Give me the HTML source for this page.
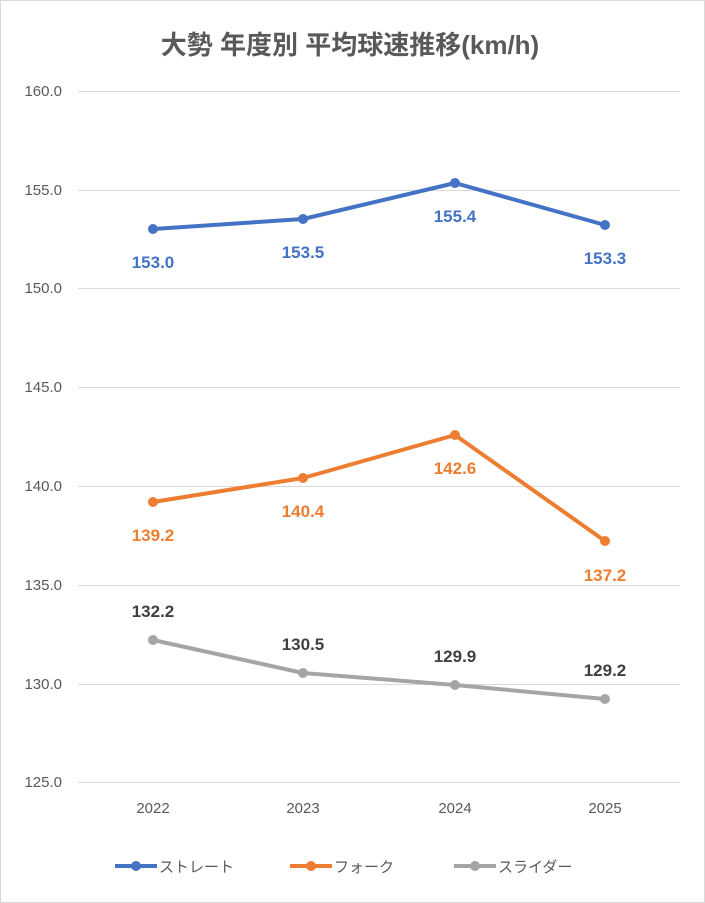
<!DOCTYPE html>
<html><head><meta charset="utf-8"><style>
html,body{margin:0;padding:0;background:#fff;}
svg{display:block;}
text{font-family:"Liberation Sans","Noto Sans CJK JP",sans-serif;}
</style></head><body>
<svg width="705" height="903" viewBox="0 0 705 903" xmlns="http://www.w3.org/2000/svg">
<rect x="0.5" y="0.5" width="704" height="902" fill="#fff" stroke="#d9d9d9"/>
<text x="350" y="54" text-anchor="middle" font-size="26" font-weight="bold" fill="#595959">大勢 年度別 平均球速推移(km/h)</text>
<g stroke="#d9d9d9" stroke-width="1">
<line x1="78" y1="91.5" x2="680" y2="91.5"/>
<line x1="78" y1="190.5" x2="680" y2="190.5"/>
<line x1="78" y1="288.5" x2="680" y2="288.5"/>
<line x1="78" y1="387.5" x2="680" y2="387.5"/>
<line x1="78" y1="486.5" x2="680" y2="486.5"/>
<line x1="78" y1="585.5" x2="680" y2="585.5"/>
<line x1="78" y1="684.5" x2="680" y2="684.5"/>
<line x1="78" y1="782.5" x2="680" y2="782.5"/>
</g>
<g font-size="15" fill="#595959" text-anchor="end">
<text x="62" y="96">160.0</text><text x="62" y="195">155.0</text><text x="62" y="293">150.0</text>
<text x="62" y="392">145.0</text><text x="62" y="491">140.0</text><text x="62" y="590">135.0</text>
<text x="62" y="689">130.0</text><text x="62" y="787">125.0</text>
</g>
<g font-size="15" fill="#595959" text-anchor="middle">
<text x="153" y="813">2022</text><text x="303" y="813">2023</text><text x="455" y="813">2024</text><text x="605" y="813">2025</text>
</g>
<polyline points="153,229 303,219 455,183 605,225" fill="none" stroke="#4472c4" stroke-width="4" stroke-linejoin="round"/>
<g fill="#4472c4"><circle cx="153" cy="229" r="5"/><circle cx="303" cy="219" r="5"/><circle cx="455" cy="183" r="5"/><circle cx="605" cy="225" r="5"/></g>
<polyline points="153,502 303,478 455,435 605,541" fill="none" stroke="#ed7d31" stroke-width="4" stroke-linejoin="round"/>
<g fill="#ed7d31"><circle cx="153" cy="502" r="5"/><circle cx="303" cy="478" r="5"/><circle cx="455" cy="435" r="5"/><circle cx="605" cy="541" r="5"/></g>
<polyline points="153,640 303,673 455,685 605,699" fill="none" stroke="#a5a5a5" stroke-width="4" stroke-linejoin="round"/>
<g fill="#a5a5a5"><circle cx="153" cy="640" r="5"/><circle cx="303" cy="673" r="5"/><circle cx="455" cy="685" r="5"/><circle cx="605" cy="699" r="5"/></g>
<g font-size="17" text-anchor="middle" font-weight="bold">
<g fill="#4472c4"><text x="153" y="268">153.0</text><text x="303" y="258">153.5</text><text x="455" y="222">155.4</text><text x="605" y="264">153.3</text></g>
<g fill="#ed7d31"><text x="153" y="541">139.2</text><text x="303" y="517">140.4</text><text x="455" y="474">142.6</text><text x="605" y="581">137.2</text></g>
<g fill="#404040"><text x="153" y="617">132.2</text><text x="303" y="650">130.5</text><text x="455" y="662">129.9</text><text x="605" y="676">129.2</text></g>
</g>
<g font-size="15" fill="#595959">
<line x1="115" y1="866" x2="157" y2="866" stroke="#4472c4" stroke-width="4"/><circle cx="136" cy="866" r="5" fill="#4472c4"/>
<text x="159" y="872">ストレート</text>
<line x1="290" y1="866" x2="332" y2="866" stroke="#ed7d31" stroke-width="4"/><circle cx="311" cy="866" r="5" fill="#ed7d31"/>
<text x="334" y="872">フォーク</text>
<line x1="454" y1="866" x2="496" y2="866" stroke="#a5a5a5" stroke-width="4"/><circle cx="475" cy="866" r="5" fill="#a5a5a5"/>
<text x="498" y="872">スライダー</text>
</g>
</svg>
</body></html>
